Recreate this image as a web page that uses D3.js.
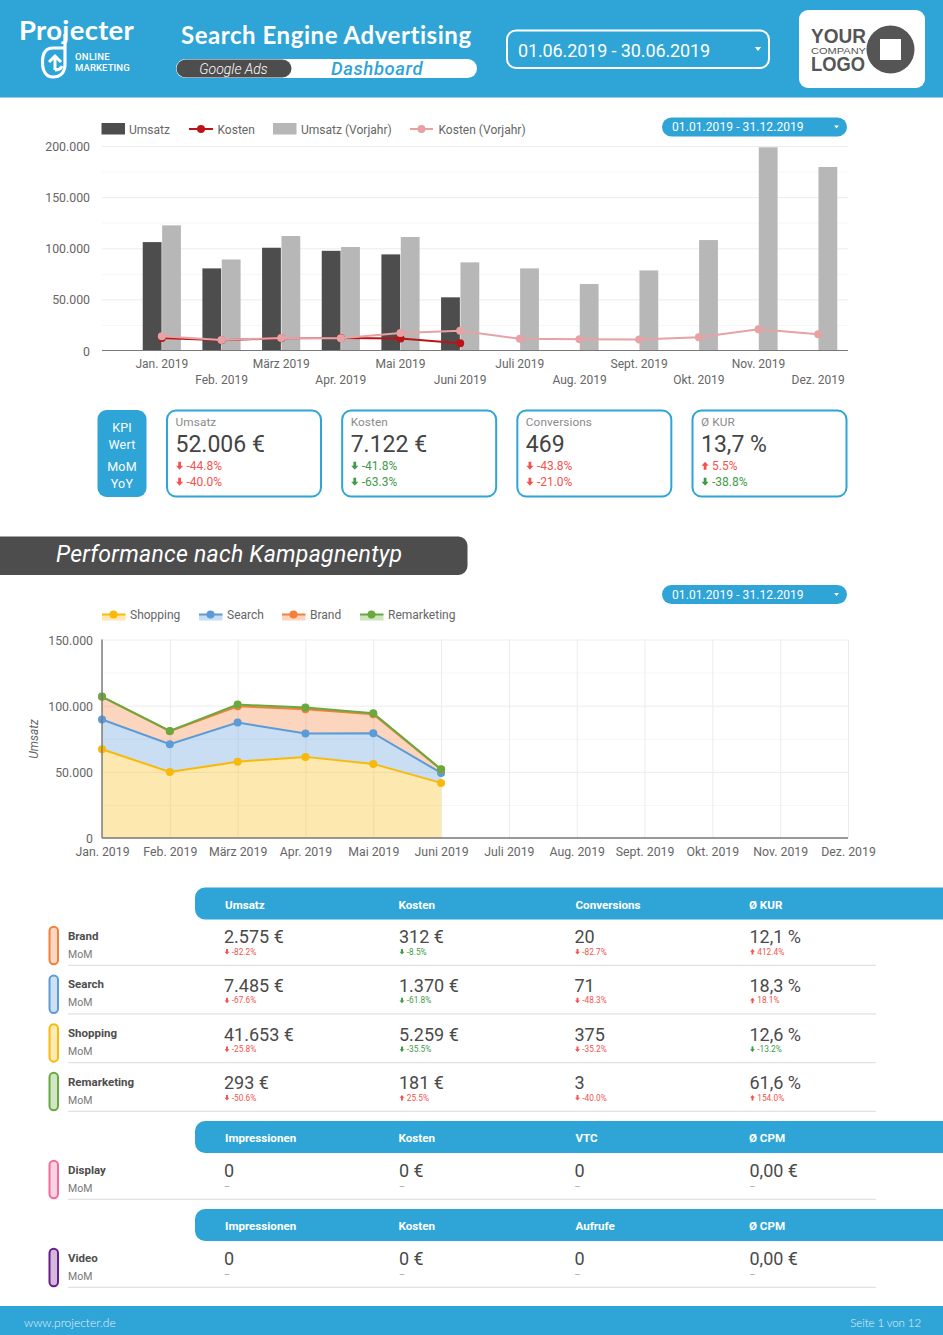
<!DOCTYPE html>
<html>
<head>
<meta charset="utf-8">
<script src="https://cdn.jsdelivr.net/npm/d3@7"></script>
<style>
  html, body { margin: 0; padding: 0; background: #fff; overflow: hidden; }
  svg { display: block; font-family: Roboto, sans-serif; }
</style>
</head>
<body>
<svg id="page" width="943" height="1335"></svg>
<script>
// data
const monthsShort = ['Jan. 2019', 'Feb. 2019', 'März 2019', 'Apr. 2019', 'Mai 2019', 'Juni 2019',
  'Juli 2019', 'Aug. 2019', 'Sept. 2019', 'Okt. 2019', 'Nov. 2019', 'Dez. 2019']

const umsatz = [106000, 80300, 100500, 97500, 94000, 52006]
const umsatzVorjahr = [122400, 89000, 112000, 101200, 111000, 86200, 80300, 65000, 78300, 108000, 198700, 179500]
const kosten = [12200, 10000, 12000, 12200, 11800, 7122]
const kostenVorjahr = [14000, 10200, 12300, 12000, 17200, 19400, 11400, 11000, 10700, 13000, 20800, 16000]

const shopping = [67100, 49900, 57700, 61300, 56000, 41653]
const search = [22400, 20900, 29500, 17600, 23200, 7485]
const brand = [17200, 9900, 12400, 18400, 14300, 2575]
const remarketing = [200, 200, 1200, 1300, 800, 293]

const kpiNames = ['Umsatz', 'Kosten', 'Conversions', 'Ø KUR']
const kpiValues = ['52.006 €', '7.122 €', '469', '13,7 %']
const kpiMoM = ['-44.8%', '-41.8%', '-43.8%', '5.5%']
const kpiYoY = ['-40.0%', '-63.3%', '-21.0%', '-38.8%']
const kpiCostLike = [false, true, false, true]

const rowNames = ['Brand', 'Search', 'Shopping', 'Remarketing']
const rowValues = [
  ['2.575 €', '312 €', '20', '12,1 %'],
  ['7.485 €', '1.370 €', '71', '18,3 %'],
  ['41.653 €', '5.259 €', '375', '12,6 %'],
  ['293 €', '181 €', '3', '61,6 %'],
]
const rowDeltas = [
  ['-82.2%', '-8.5%', '-82.7%', '412.4%'],
  ['-67.6%', '-61.8%', '-48.3%', '18.1%'],
  ['-25.8%', '-35.5%', '-35.2%', '-13.2%'],
  ['-50.6%', '25.5%', '-40.0%', '154.0%'],
]
const displayHead = ['Impressionen', 'Kosten', 'VTC', 'Ø CPM']
const videoHead = ['Impressionen', 'Kosten', 'Aufrufe', 'Ø CPM']
const emptyValues = ['0', '0 €', '0', '0,00 €']

const BLUE = '#2fa4d7', DARK = '#4d4d4d', TEXT = '#666', RED = '#f4534f', GREEN = '#3f9a4a'
const colShopping = '#f9b90b', colSearch = '#5b9bd8', colBrand = '#f47f38', colRemark = '#69a93f'

const svg = d3.select('#page')
const de = d3.formatLocale({ decimal: ',', thousands: '.', grouping: [3], currency: ['', ' €'] })
const fmt = de.format(',d')

function label(parent, x, y, str, size, fill, extra) {
  const t = parent.append('text').attr('x', x).attr('y', y).attr('font-size', size).attr('fill', fill).text(str)
  Object.entries(extra || {}).forEach(([k, v]) => t.attr(k, v))
  return t
}

function caret(parent, x, y, w) {
  parent.append('path').attr('d', `M${x - w} ${y - w * 0.6}H${x + w}L${x} ${y + w * 0.6}Z`).attr('fill', '#fff')
}

function arrow(parent, x, y, s, up, fill) {
  // small block arrow, y is the middle
  const dir = up ? -1 : 1
  parent.append('path')
    .attr('d', `M${x - s * 0.35} ${y - dir * s}H${x + s * 0.35}V${y}H${x + s * 0.9}L${x} ${y + dir * s}L${x - s * 0.9} ${y}H${x - s * 0.35}Z`)
    .attr('fill', fill)
}

function delta(parent, x, y, str, size, costLike) {
  const up = !str.startsWith('-')
  const fill = costLike ? (up ? RED : GREEN) : (up ? GREEN : RED)
  arrow(parent, x + size * 0.3, y - size * 0.36, size * 0.33, up, fill)
  label(parent, x + size * 0.88, y, str, size, fill)
}

function dateChip(y) {
  svg.append('rect').attr('x', 662).attr('y', y).attr('width', 185).attr('height', 19).attr('rx', 9.5).attr('fill', BLUE)
  label(svg, 672, y + 13.5, '01.01.2019 - 31.12.2019', 12, '#fff', { 'letter-spacing': 0.08 })
  caret(svg, 836.5, y + 9.5, 2.4)
}

// ---------- header
svg.append('rect').attr('width', 943).attr('height', 97.5).attr('fill', BLUE)
label(svg, 19, 40, 'Projecter', 27.5, '#fff', { 'font-family': 'Lato', 'font-weight': 700, 'letter-spacing': 0.3 })
svg.append('path').attr('fill', 'none').attr('stroke', '#fff').attr('stroke-width', 3.2)
  .attr('d', 'M65 34V64C65 73 60 77 53 77C46 77 42.5 71 42.5 62C42.5 53 46 48 53 48H64')
svg.append('path').attr('fill', 'none').attr('stroke', '#fff').attr('stroke-width', 3)
  .attr('d', 'M55 70V57M49 62L55 56L61 62M55 70C58 70 61 69 62 66')
label(svg, 75, 60, 'ONLINE', 9.5, '#fff', { 'font-weight': 500, 'letter-spacing': 0.3 })
label(svg, 75, 70.5, 'MARKETING', 9.5, '#fff', { 'font-weight': 500, 'letter-spacing': 0.1 })

label(svg, 181, 44, 'Search Engine Advertising', 24, '#fff', { 'font-family': 'Lato', 'font-weight': 700, 'letter-spacing': 0.55 })
svg.append('rect').attr('x', 176).attr('y', 59).attr('width', 301).attr('height', 19).attr('rx', 9.5).attr('fill', '#fff')
svg.append('rect').attr('x', 176.5).attr('y', 59.5).attr('width', 115).attr('height', 18).attr('rx', 9).attr('fill', DARK)
label(svg, 233.5, 74, 'Google Ads', 14, '#fff', { 'text-anchor': 'middle', 'font-style': 'italic', 'font-weight': 300 })
label(svg, 377, 74.5, 'Dashboard', 18.5, BLUE, { 'text-anchor': 'middle', 'font-style': 'italic', 'font-weight': 500, 'letter-spacing': 0.6 })

svg.append('rect').attr('x', 507).attr('y', 30.5).attr('width', 262).attr('height', 37.5).attr('rx', 9)
  .attr('fill', 'none').attr('stroke', '#fff').attr('stroke-width', 2)
label(svg, 518, 56.5, '01.06.2019 - 30.06.2019', 18, '#fff', { 'letter-spacing': -0.12 })
caret(svg, 758, 49, 3.2)

svg.append('rect').attr('x', 799).attr('y', 10).attr('width', 126).attr('height', 78).attr('rx', 9).attr('fill', '#fff')
const logoFont = { 'font-family': 'Liberation Sans', 'font-weight': 700, lengthAdjust: 'spacingAndGlyphs' }
label(svg, 811, 43, 'YOUR', 20, '#555', { ...logoFont, textLength: 55 })
label(svg, 811, 53.5, 'COMPANY', 9.5, '#555', { 'font-family': 'Liberation Sans', lengthAdjust: 'spacingAndGlyphs', textLength: 55 })
label(svg, 811, 71, 'LOGO', 20, '#555', { ...logoFont, textLength: 54 })
svg.append('circle').attr('cx', 890.5).attr('cy', 49.5).attr('r', 24).attr('fill', '#555')
svg.append('rect').attr('x', 880).attr('y', 39).attr('width', 21).attr('height', 21).attr('fill', '#fff')

// ---------- chart 1: bars + lines
const c1 = { left: 102, right: 848, top: 146, bottom: 350.5 }
const x0 = d3.scaleBand().domain(monthsShort).range([132, c1.right]).paddingInner(0.36).paddingOuter(0.18)
const x1 = d3.scaleBand().domain(['umsatz', 'vorjahr']).range([0, x0.bandwidth()]).paddingInner(0.03)
const y1 = d3.scaleLinear().domain([0, 200000]).range([c1.bottom, c1.top])
const midX = d => x0(d) + x0.bandwidth() / 2

const grid1 = svg.append('g').attr('transform', `translate(${c1.left},0)`)
  .call(d3.axisLeft(y1).tickValues(d3.range(25000, 200001, 25000)).tickSize(-(c1.right - c1.left)).tickFormat(''))
grid1.select('.domain').remove()
grid1.selectAll('line').attr('stroke', d => d % 50000 ? '#f6f6f6' : '#ececec')

const yAxis1 = svg.append('g').attr('transform', 'translate(94,0)')
  .call(d3.axisLeft(y1).tickValues(d3.range(0, 200001, 50000)).tickSize(0).tickFormat(fmt))
yAxis1.select('.domain').remove()
yAxis1.selectAll('text').attr('font-family', 'Roboto').attr('font-size', 12.3).attr('fill', TEXT).attr('dy', 4.5).attr('x', -4)

function barSeries(values, key, fill) {
  svg.append('g').selectAll('rect').data(values).join('rect')
    .attr('x', (d, i) => x0(monthsShort[i]) + x1(key))
    .attr('y', d => y1(d))
    .attr('width', x1.bandwidth())
    .attr('height', d => y1(0) - y1(d))
    .attr('fill', fill)
}
barSeries(umsatz, 'umsatz', DARK)
barSeries(umsatzVorjahr, 'vorjahr', '#b7b7b7')

svg.append('line').attr('x1', c1.left).attr('x2', c1.right).attr('y1', c1.bottom).attr('y2', c1.bottom).attr('stroke', '#777').attr('stroke-width', 1.2)

function lineSeries(values, col) {
  const line = d3.line().x((d, i) => midX(monthsShort[i])).y(d => y1(d))
  svg.append('path').attr('d', line(values)).attr('fill', 'none').attr('stroke', col).attr('stroke-width', 2)
  svg.append('g').selectAll('circle').data(values).join('circle')
    .attr('cx', (d, i) => midX(monthsShort[i])).attr('cy', d => y1(d)).attr('r', 4).attr('fill', col)
}
lineSeries(kosten, '#bb1418')
lineSeries(kostenVorjahr, '#e6a2a4')

const xAxis1 = svg.append('g').attr('transform', `translate(0,${c1.bottom})`)
  .call(d3.axisBottom(x0).tickSize(0))
xAxis1.select('.domain').remove()
xAxis1.selectAll('text').attr('font-family', 'Roboto').attr('font-size', 12).attr('fill', TEXT)
  .attr('y', (d, i) => i % 2 ? 33.5 : 17.8).attr('dy', 0)

// legend 1
const leg1 = svg.append('g')
const legText = (x, y, s) => label(leg1, x, y, s, 12, TEXT)
leg1.append('rect').attr('x', 101.5).attr('y', 123).attr('width', 23.5).attr('height', 11.5).attr('fill', DARK)
legText(129, 133.5, 'Umsatz')
leg1.append('line').attr('x1', 189).attr('x2', 213).attr('y1', 129).attr('y2', 129).attr('stroke', '#bb1418').attr('stroke-width', 2)
leg1.append('circle').attr('cx', 201).attr('cy', 129).attr('r', 4).attr('fill', '#bb1418')
legText(217.5, 133.5, 'Kosten')
leg1.append('rect').attr('x', 273).attr('y', 123).attr('width', 23.5).attr('height', 11.5).attr('fill', '#b7b7b7')
legText(301, 133.5, 'Umsatz (Vorjahr)')
leg1.append('line').attr('x1', 410).attr('x2', 433).attr('y1', 129).attr('y2', 129).attr('stroke', '#e6a2a4').attr('stroke-width', 2)
leg1.append('circle').attr('cx', 421.5).attr('cy', 129).attr('r', 4).attr('fill', '#e6a2a4')
legText(438.5, 133.5, 'Kosten (Vorjahr)')
dateChip(117.5)

// ---------- KPI cards
svg.append('rect').attr('x', 97.5).attr('y', 410).attr('width', 49).attr('height', 87).attr('rx', 9).attr('fill', BLUE)
;[['KPI', 432], ['Wert', 449], ['MoM', 471], ['YoY', 488]].forEach(([s, y]) => {
  label(svg, 122, y, s, 12.5, '#fff', { 'text-anchor': 'middle', 'letter-spacing': 0.2 })
})
const cardX = d3.scalePoint().domain(kpiNames).range([167, 692.5])
kpiNames.forEach((name, i) => {
  const x = cardX(name)
  const g = svg.append('g')
  g.append('rect').attr('x', x).attr('y', 410.5).attr('width', 154).attr('height', 86).attr('rx', 9)
    .attr('fill', '#fff').attr('stroke', BLUE).attr('stroke-width', 2)
  label(g, x + 8.5, 426, name, 11.8, '#8a8a8a', { 'letter-spacing': 0.1 })
  label(g, x + 8.5, 452, kpiValues[i], 23, '#444')
  delta(g, x + 9, 470, kpiMoM[i], 12, kpiCostLike[i])
  delta(g, x + 9, 486, kpiYoY[i], 12, kpiCostLike[i])
})

// ---------- section banner
svg.append('path').attr('d', 'M0 536.5H458.5a9 9 0 0 1 9 9V566a9 9 0 0 1 -9 9H0Z').attr('fill', DARK)
label(svg, 56, 562, 'Performance nach Kampagnentyp', 23, '#fff', { 'font-style': 'italic', 'font-weight': 400, 'letter-spacing': 0.27 })
dateChip(585)

// ---------- chart 2: stacked area
const c2 = { left: 102, right: 848, top: 639.5, bottom: 838 }
const x2 = d3.scalePoint().domain(monthsShort).range([c2.left, c2.right])
const y2 = d3.scaleLinear().domain([0, 150000]).range([c2.bottom, c2.top])

const grid2y = svg.append('g').attr('transform', `translate(${c2.left},0)`)
  .call(d3.axisLeft(y2).tickValues(d3.range(25000, 150001, 25000)).tickSize(-(c2.right - c2.left)).tickFormat(''))
grid2y.select('.domain').remove()
grid2y.selectAll('line').attr('stroke', d => d % 50000 ? '#f6f6f6' : '#ececec')
const grid2x = svg.append('g').attr('transform', `translate(0,${c2.bottom})`)
  .call(d3.axisBottom(x2).tickSize(-(c2.bottom - c2.top)).tickFormat(''))
grid2x.select('.domain').remove()
grid2x.selectAll('line').attr('stroke', '#ececec')

const stackKeys = ['shopping', 'search', 'brand', 'remarketing']
const stackColors = [colShopping, colSearch, colBrand, colRemark]
const stackRows = shopping.map((d, i) => ({ month: monthsShort[i], shopping: d, search: search[i], brand: brand[i], remarketing: remarketing[i] }))
const layers = d3.stack().keys(stackKeys)(stackRows)
const area = d3.area().x(d => x2(d.data.month)).y0(d => y2(d[0])).y1(d => y2(d[1]))
const top2 = d3.line().x(d => x2(d.data.month)).y(d => y2(d[1]))

svg.append('g').selectAll('path').data(layers).join('path')
  .attr('d', area).attr('fill', (d, i) => stackColors[i]).attr('fill-opacity', 0.33)
layers.forEach((layer, i) => {
  svg.append('path').attr('d', top2(layer)).attr('fill', 'none').attr('stroke', stackColors[i]).attr('stroke-width', 2)
})
layers.forEach((layer, i) => {
  svg.append('g').selectAll('circle').data(layer).join('circle')
    .attr('cx', d => x2(d.data.month)).attr('cy', d => y2(d[1])).attr('r', 4).attr('fill', stackColors[i])
})

svg.append('line').attr('x1', c2.left).attr('x2', c2.right).attr('y1', c2.bottom).attr('y2', c2.bottom).attr('stroke', '#777').attr('stroke-width', 1.4)
svg.append('line').attr('x1', c2.left).attr('x2', c2.left).attr('y1', c2.top).attr('y2', c2.bottom).attr('stroke', '#777').attr('stroke-width', 1.4)

const yAxis2 = svg.append('g').attr('transform', `translate(${c2.left},0)`)
  .call(d3.axisLeft(y2).tickValues(d3.range(0, 150001, 50000)).tickSize(0).tickFormat(fmt))
yAxis2.select('.domain').remove()
yAxis2.selectAll('text').attr('font-family', 'Roboto').attr('font-size', 12.3).attr('fill', TEXT).attr('dy', 4.5).attr('x', -9)

const xAxis2 = svg.append('g').attr('transform', `translate(0,${c2.bottom})`).call(d3.axisBottom(x2).tickSize(0))
xAxis2.select('.domain').remove()
xAxis2.selectAll('text').attr('font-family', 'Roboto').attr('font-size', 12.3).attr('fill', TEXT).attr('y', 18).attr('dy', 0)

label(svg, 0, 0, 'Umsatz', 12, TEXT, { 'font-style': 'italic', 'text-anchor': 'middle', transform: 'translate(38,739) rotate(-90)' })

// legend 2
const legend2X = [102, 199, 282, 360]
const legend2Names = ['Shopping', 'Search', 'Brand', 'Remarketing']
legend2Names.forEach((name, i) => {
  const x = legend2X[i]
  svg.append('rect').attr('x', x).attr('y', 614.5).attr('width', 23.5).attr('height', 6).attr('fill', stackColors[i]).attr('fill-opacity', 0.33)
  svg.append('line').attr('x1', x).attr('x2', x + 23.5).attr('y1', 614.5).attr('y2', 614.5).attr('stroke', stackColors[i]).attr('stroke-width', 2)
  svg.append('circle').attr('cx', x + 11.5).attr('cy', 614.5).attr('r', 4).attr('fill', stackColors[i])
  label(svg, x + 28, 619, name, 12, TEXT)
})

// ---------- tables
const colX = [224, 399, 574.5, 749.5]
const headX = [225, 398.5, 575.5, 749]

function headerBar(y, names) {
  svg.append('path').attr('d', `M943 ${y}H205a10 10 0 0 0 -10 10V${y + 22}a10 10 0 0 0 10 10H943Z`).attr('fill', BLUE)
  names.forEach((n, i) => label(svg, headX[i], y + 21, n, 11.6, '#fff', { 'font-weight': 700 }))
}

function row(sep, name, col, values, deltas) {
  const g = svg.append('g')
  g.append('rect').attr('x', 49.5).attr('y', sep - 38.5).attr('width', 8.5).attr('height', 37.5).attr('rx', 4.2)
    .attr('fill', col).attr('fill-opacity', 0.3).attr('stroke', col).attr('stroke-width', 2)
  label(g, 68, sep - 25.5, name, 11.5, DARK, { 'font-weight': 700 })
  label(g, 68, sep - 7.5, 'MoM', 10.5, '#777')
  values.forEach((v, i) => {
    label(g, colX[i], sep - 22, v, 18, '#4a4a4a')
    if (deltas) delta(g, colX[i] + 0.5, sep - 10.5, deltas[i], 8.3, kpiCostLike[i])
    else label(g, colX[i], sep - 9.5, '–', 9, '#999')
  })
  g.append('line').attr('x1', 68).attr('x2', 876).attr('y1', sep).attr('y2', sep).attr('stroke', '#e2e2e2').attr('stroke-width', 1.2)
}

const rowColors = [colBrand, colSearch, colShopping, colRemark]
headerBar(887.5, kpiNames)
rowNames.forEach((name, i) => {
  row(965.3 + i * 48.67, name, rowColors[i], rowValues[i], rowDeltas[i])
})
headerBar(1121, displayHead)
row(1199.3, 'Display', '#f36b9a', emptyValues, null)
headerBar(1209, videoHead)
row(1287.3, 'Video', '#6a1b8a', emptyValues, null)

// ---------- footer
svg.append('rect').attr('y', 1306).attr('width', 943).attr('height', 29).attr('fill', BLUE)
label(svg, 24, 1327, 'www.projecter.de', 12, '#e4f3fa', { 'font-family': 'Lato', 'font-weight': 300 })
label(svg, 921, 1327, 'Seite 1 von 12', 11.5, '#e4f3fa', { 'font-family': 'Lato', 'font-weight': 300, 'text-anchor': 'end', 'letter-spacing': -0.1 })
</script>
</body>
</html>
